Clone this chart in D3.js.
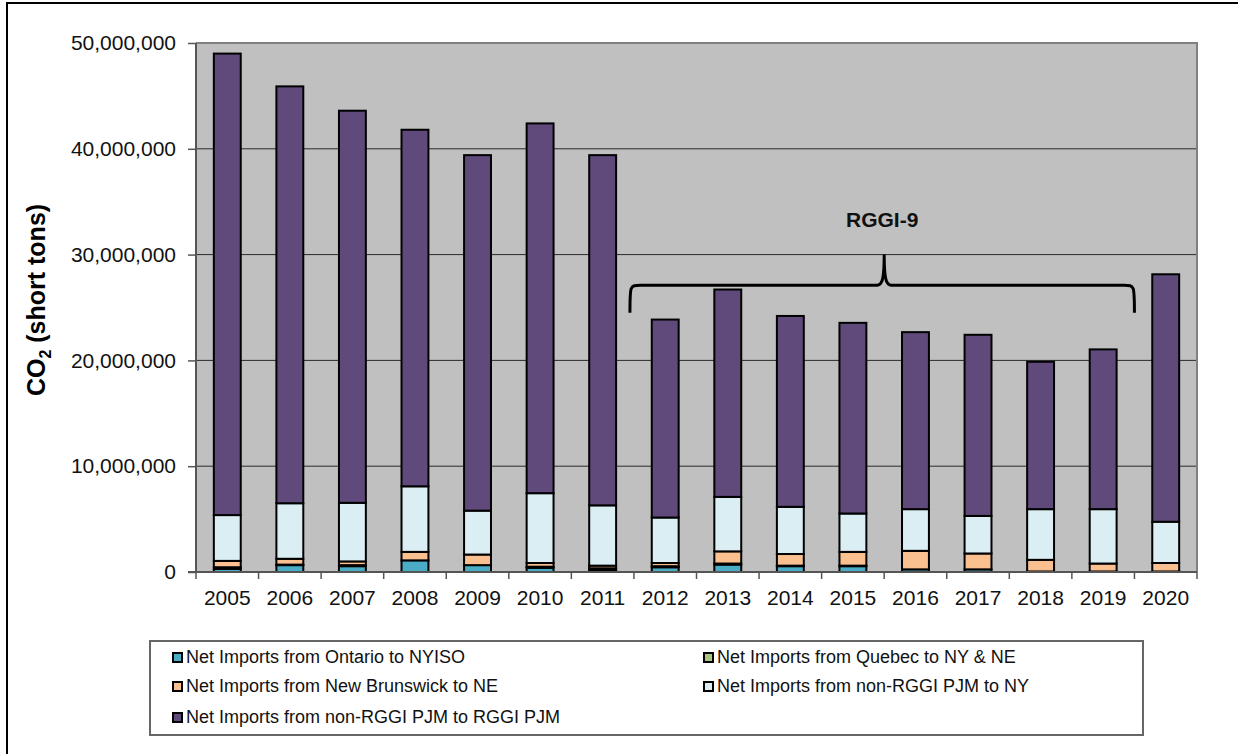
<!DOCTYPE html>
<html><head><meta charset="utf-8">
<script src="https://cdn.jsdelivr.net/npm/d3@7"></script>
<style>body{margin:0;background:#fff}svg{display:block;font-family:"Liberation Sans",Arial,sans-serif}</style>
</head><body>
<svg id="c" width="1238" height="754"></svg>
<script>
const years = ["2005","2006","2007","2008","2009","2010","2011","2012","2013","2014","2015","2016","2017","2018","2019","2020"];
// values in millions of short tons
const ontario = [0.3,0.65,0.55,1.1,0.65,0.4,0.2,0.45,0.7,0.55,0.55,0.25,0.25,0.05,0.05,0.05];
const quebec  = [0.15,0.05,0.1,0.0,0.0,0.1,0.15,0.1,0.1,0.05,0.05,0.0,0.0,0.0,0.0,0.0];
const newBrunswick = [0.6,0.55,0.35,0.8,1.0,0.35,0.25,0.3,1.15,1.1,1.3,1.75,1.5,1.1,0.75,0.8];
const pjmToNY = [4.33,5.25,5.54,6.2,4.15,6.6,5.7,4.3,5.15,4.46,3.63,3.94,3.55,4.79,5.14,3.9];
const pjmToRGGI = [43.62,39.4,37.06,33.7,33.6,34.95,33.1,18.71,19.6,18.04,18.02,16.73,17.12,13.93,15.1,23.39];
const yTicks = [0,10,20,30,40,50];
const seriesNames = ["Net Imports from Ontario to NYISO","Net Imports from Quebec to NY & NE","Net Imports from New Brunswick to NE","Net Imports from non-RGGI PJM to NY","Net Imports from non-RGGI PJM to RGGI PJM"];
const seriesColors = ["#4BACC6","#A9C47F","#FAC090","#DAEEF3","#604A7B"];
const bracketLabel = "RGGI-9";

const seriesData = [ontario, quebec, newBrunswick, pjmToNY, pjmToRGGI];
const rows = years.map((y,i)=>{const r={year:y}; seriesData.forEach((s,k)=>r["s"+k]=s[i]); return r;});
const keys = seriesData.map((s,k)=>"s"+k);

const svg = d3.select("#c");
const L=196, T=43, R=1197, B=572;
const FONT = "Liberation Sans, Arial, sans-serif";

svg.append("rect").attr("x",7).attr("y",3).attr("width",1260).attr("height",780)
  .attr("fill","#fff").attr("stroke","#000").attr("stroke-width",2);

const x = d3.scaleBand().domain(years).range([L,R]).paddingInner(0.57).paddingOuter(0.285);
const y = d3.scaleLinear().domain([0,50]).range([B,T]);

svg.append("rect").attr("x",L).attr("y",T).attr("width",R-L).attr("height",B-T).attr("fill","#C0C0C0");

// gridlines
svg.append("g").selectAll("line").data(yTicks.filter(d=>d>0 && d<50)).join("line")
  .attr("x1",L).attr("x2",R).attr("y1",d=>y(d)).attr("y2",d=>y(d))
  .attr("stroke","#2b2b2b").attr("stroke-width",1);

// plot border top/right
svg.append("path").attr("d",`M${L},${T}H${R}V${B}`).attr("fill","none").attr("stroke","#808080").attr("stroke-width",2);

// stacked bars
const stack = d3.stack().keys(keys)(rows);
svg.append("g").selectAll("g").data(stack).join("g")
  .attr("fill",(d,i)=>seriesColors[i])
  .selectAll("rect").data(d=>d).join("rect")
  .attr("x",d=>x(d.data.year)).attr("width",x.bandwidth())
  .attr("y",d=>y(d[1])).attr("height",d=>Math.max(0,y(d[0])-y(d[1])))
  .attr("stroke","#000").attr("stroke-width",2);

// y axis
const yAxis = svg.append("g").attr("transform",`translate(${L},0)`)
  .call(d3.axisLeft(y).tickValues(yTicks).tickSize(8).tickPadding(12).tickFormat(d=>d3.format(",")(d*1e6)));
yAxis.select(".domain").attr("stroke","#555").attr("stroke-width",2).attr("d",`M0,${T}V${B}`);
yAxis.selectAll(".tick line").attr("stroke","#555").attr("stroke-width",1.5);
yAxis.selectAll("text").attr("font-size",21).attr("fill","#111").attr("font-family",FONT);

// x axis
const xAxis = svg.append("g").attr("transform",`translate(0,${B})`)
  .call(d3.axisBottom(x).tickSize(0).tickPadding(0));
xAxis.select(".domain").attr("stroke","#555").attr("stroke-width",2).attr("d",`M${L-8},0H${R}`);
xAxis.selectAll("text").attr("font-size",21).attr("fill","#111").attr("font-family",FONT)
  .attr("dy",null).attr("y",33);
const bounds = d3.range(years.length+1).map(i=>L+i*(R-L)/years.length);
svg.append("g").selectAll("line").data(bounds).join("line")
  .attr("x1",d=>d).attr("x2",d=>d).attr("y1",B).attr("y2",B+7)
  .attr("stroke","#555").attr("stroke-width",1.5);

// y label
const yl = svg.append("text").attr("transform","translate(45,300) rotate(-90)")
  .attr("text-anchor","middle").attr("font-size",25).attr("font-weight","bold").attr("fill","#000")
  .attr("font-family",FONT);
yl.append("tspan").text("CO");
yl.append("tspan").text("2").attr("font-size",16).attr("dy",6);
yl.append("tspan").text(" (short tons)").attr("dy",-6);

// bracket
const gap = x.step()*x.paddingInner()/2;
const bx0 = x("2012") - gap - 4;
const bx1 = x("2020") - gap;
const bxc = x("2016") - gap;
const yH = y(27.1), yTip = y(30), yEnd = y(24.5), r = 10;
svg.append("path")
  .attr("d",`M${bx0},${yEnd} C${bx0},${yH} ${bx0},${yH} ${bx0+r},${yH} H${bxc-r} C${bxc-3},${yH} ${bxc},${yH} ${bxc},${yTip} C${bxc},${yH} ${bxc+3},${yH} ${bxc+r},${yH} H${bx1-r} C${bx1},${yH} ${bx1},${yH} ${bx1},${yEnd}`)
  .attr("fill","none").attr("stroke","#000").attr("stroke-width",3);
svg.append("text").attr("x",bxc-2).attr("y",y(32.6)).attr("text-anchor","middle")
  .attr("font-size",21).attr("font-weight","bold").attr("fill","#111").attr("font-family",FONT).text(bracketLabel);

// legend
svg.append("rect").attr("x",150).attr("y",641).attr("width",993).attr("height",94)
  .attr("fill","#fff").attr("stroke","#666").attr("stroke-width",2);
const legPos = [[173,663],[704,663],[173,692],[704,692],[173,723]];
const lg = svg.append("g").selectAll("g").data(seriesNames).join("g")
  .attr("transform",(d,i)=>`translate(${legPos[i][0]},${legPos[i][1]})`);
lg.append("rect").attr("x",0).attr("y",-10).attr("width",9).attr("height",9)
  .attr("fill",(d,i)=>seriesColors[i]).attr("stroke","#000").attr("stroke-width",2);
lg.append("text").attr("x",13).attr("y",0).attr("font-size",18).attr("fill","#111")
  .attr("font-family",FONT).text(d=>d);
</script>
</body></html>
